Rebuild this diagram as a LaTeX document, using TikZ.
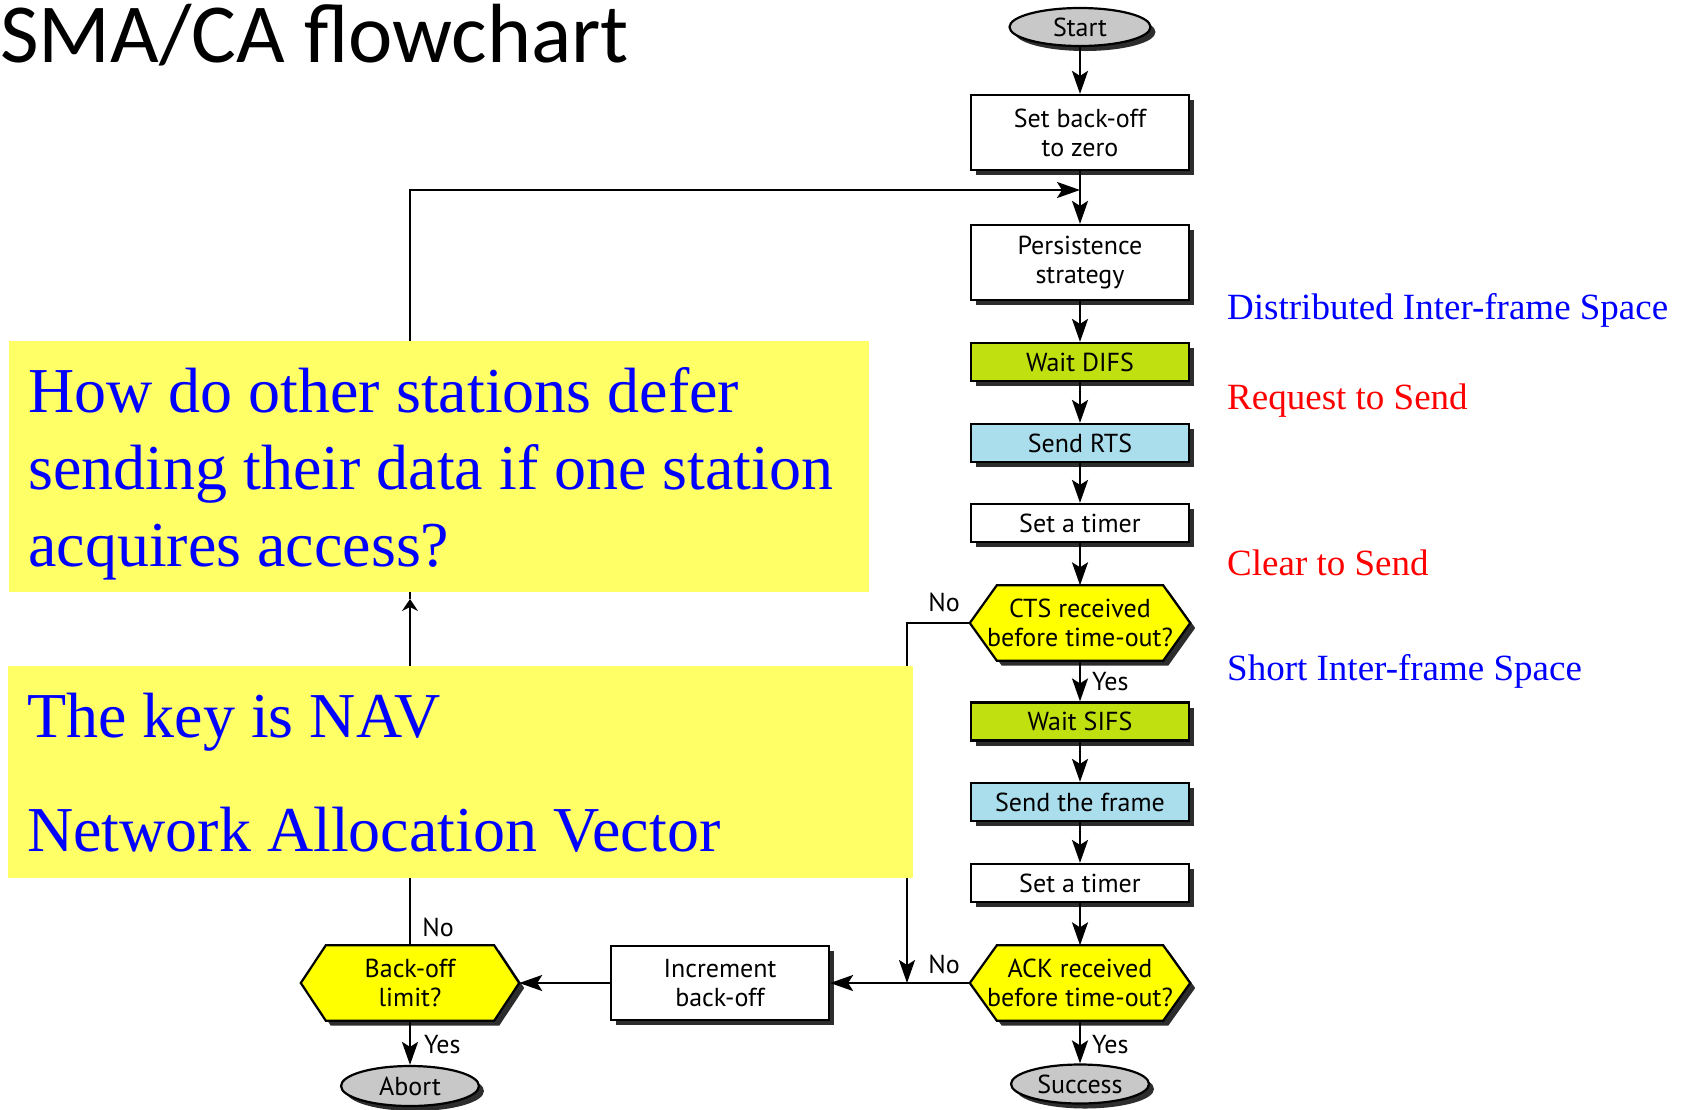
\documentclass[tikz,border=0pt]{standalone}
\usepackage{fontspec}
\setmainfont{Liberation Serif}
\newfontfamily\flowfont{PT Sans}
\newfontfamily\titlefont{Carlito}
\usetikzlibrary{arrows.meta,shapes.geometric,calc}
\pgfdeclarelayer{bg}
\pgfsetlayers{bg,main}
\definecolor{difsgreen}{RGB}{192,224,16}
\definecolor{rtsblue}{RGB}{170,222,236}
\definecolor{hexyellow}{RGB}{255,255,0}
\definecolor{notey}{RGB}{255,255,102}
\definecolor{ellgray}{RGB}{200,200,200}
\definecolor{shadowc}{RGB}{45,45,45}
\definecolor{noteblue}{RGB}{0,0,255}
\definecolor{notered}{RGB}{255,0,0}
\newcommand\drawhex[2]{%
  \fill[shadowc, transform canvas={xshift=5pt,yshift=-5pt}] (#1.west) -- ([xshift=#2pt]#1.north west) -- ([xshift=-#2pt]#1.north east) -- (#1.east) -- ([xshift=-#2pt]#1.south east) -- ([xshift=#2pt]#1.south west) -- cycle;
  \filldraw[fill=hexyellow, draw=black, line width=2.2pt, line join=miter] (#1.west) -- ([xshift=#2pt]#1.north west) -- ([xshift=-#2pt]#1.north east) -- (#1.east) -- ([xshift=-#2pt]#1.south east) -- ([xshift=#2pt]#1.south west) -- cycle;
}
\begin{document}
\begin{tikzpicture}[x=1pt,y=-1pt,
  flow/.style={font=\flowfont\fontsize{26}{29}\selectfont, align=center, inner sep=0pt},
  shadowed/.style={preaction={fill=shadowc, transform canvas={xshift=5pt,yshift=-5pt}}},
  procbox/.style={flow, draw=black, line width=2.2pt, fill=white, shadowed, minimum width=218pt},
  tallbox/.style={procbox, minimum height=75pt},
  shortbox/.style={procbox, minimum height=38pt},
  termnode/.style={flow, ellipse, draw=black, line width=2.2pt, fill=ellgray, shadowed},
  hexnode/.style={flow, minimum width=220pt, minimum height=75pt},
  lbl/.style={font=\flowfont\fontsize{26}{29}\selectfont, inner sep=0pt},
  conn/.style={line width=2.3pt, line join=miter, -{Stealth[length=23pt,width=16pt,inset=5pt]}},
  note/.style={fill=notey, inner sep=0pt, anchor=north west},
  notetext/.style={text=noteblue, inner sep=0pt, anchor=base west, font=\fontsize{64}{77}\selectfont},
  sidetext/.style={inner sep=0pt, anchor=base west, font=\fontsize{37}{44}\selectfont}
]
\useasboundingbox (0,0) rectangle (1689,1109);

% title
\node[inner sep=0pt, anchor=base west, font=\titlefont\fontsize{84}{100}\selectfont] (title) at (0,62) {SMA/CA flowchart};

% flowchart nodes
\node[termnode, minimum width=141pt, minimum height=38pt] (start) at (1080,27) {Start};
\node[tallbox] (setbo) at (1080,132.5) {Set back-off\\to zero};
\coordinate (merge) at (1080,190);
\node[tallbox] (persist) at (1080,262.5) {Persistence\\strategy};
\node[shortbox, fill=difsgreen] (wdifs) at (1080,362) {Wait DIFS};
\node[shortbox, fill=rtsblue] (srts) at (1080,443) {Send RTS};
\node[shortbox] (timer1) at (1080,523) {Set a timer};
\node[hexnode] (cts) at (1080,623) {CTS received\\before time-out?};
\node[shortbox, fill=difsgreen] (wsifs) at (1080,721.5) {Wait SIFS};
\node[shortbox, fill=rtsblue] (sframe) at (1080,802) {Send the frame};
\node[shortbox] (timer2) at (1080,883) {Set a timer};
\node[hexnode] (ack) at (1080,983) {ACK received\\before time-out?};
\node[termnode, minimum width=138pt, minimum height=39pt] (success) at (1080,1084) {Success};
\node[procbox, minimum height=74pt] (incr) at (720,983) {Increment\\back-off};
\node[hexnode, minimum width=218pt] (backoff) at (410,983) {Back-off\\limit?};
\node[termnode, minimum width=138pt, minimum height=40pt] (abort) at (410,1086) {Abort};

\coordinate (jn) at (907,983);
\coordinate (looptip) at (410,599);
\coordinate (loopcorner) at (410,190);

\begin{pgfonlayer}{bg}
  \drawhex{cts}{27}
  \drawhex{ack}{27}
  \drawhex{backoff}{25}
\end{pgfonlayer}

% connectors
\draw[conn] (start) -- (setbo);
\draw[conn] (setbo) -- (persist);
\draw[conn] (persist) -- (wdifs);
\draw[conn] (wdifs) -- (srts);
\draw[conn] (srts) -- (timer1);
\draw[conn] (timer1) -- (cts);
\draw[conn] (cts) -- (wsifs) node[lbl, anchor=base west, at={(1091,690)}] {Yes};
\draw[conn] (wsifs) -- (sframe);
\draw[conn] (sframe) -- (timer2);
\draw[conn] (timer2) -- (ack);
\draw[conn] (ack) -- (success) node[lbl, anchor=base west, at={(1091,1053)}] {Yes};
\draw[conn] (cts.west) -| (jn) node[lbl, anchor=base, at={(944,611)}] {No};
\draw[conn] (ack.west) -- (incr.east) node[lbl, anchor=base, at={(944,973)}] {No};
\draw[conn] (incr.west) -- (backoff.east);
\draw[conn] (backoff.south) -- (abort.north) node[lbl, anchor=base west, at={(423,1053)}] {Yes};
\draw[line width=2.3pt, -{Stealth[length=12pt,width=16pt,inset=4pt]}] (backoff.north) -- (looptip) node[lbl, anchor=base, at={(438,936)}] {No};
\draw[conn] (looptip) -- (loopcorner) -- (merge);

% side notes
\node[sidetext, text=noteblue] (difs) at (1227,319) {Distributed Inter-frame Space};
\node[sidetext, text=notered] (rts) at (1227,409) {Request to Send};
\node[sidetext, text=notered] (ctsl) at (1227,575) {Clear to Send};
\node[sidetext, text=noteblue] (sifs) at (1227,680) {Short Inter-frame Space};

% yellow notes
\node[note, minimum width=860pt, minimum height=251pt] (q1) at (9,341) {};
\node[notetext] (q1a) at (28,412) {How do other stations defer};
\node[notetext] (q1b) at (28,489) {sending their data if one station};
\node[notetext] (q1c) at (28,566) {acquires access?};
\node[note, minimum width=905pt, minimum height=212pt] (q2) at (8,666) {};
\node[notetext] (q2a) at (27,737) {The key is NAV};
\node[notetext] (q2b) at (27,851) {Network Allocation Vector};
\end{tikzpicture}
\end{document}
